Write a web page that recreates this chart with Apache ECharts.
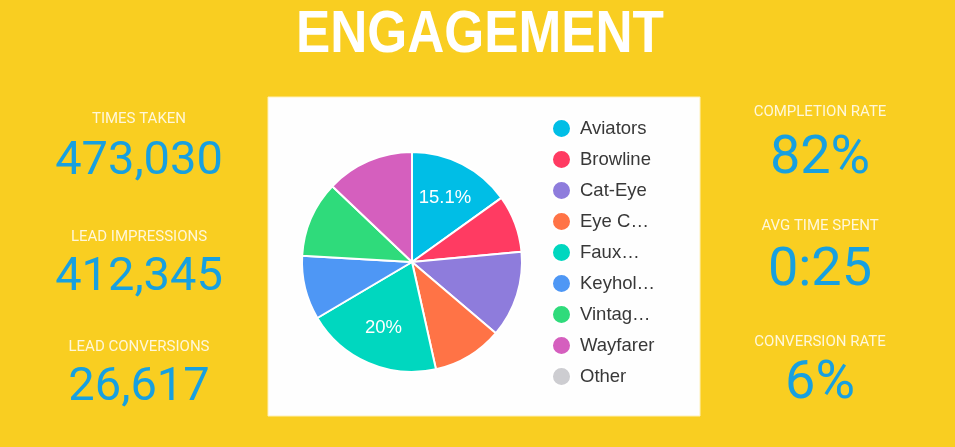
<!DOCTYPE html>
<html>
<head>
<meta charset="utf-8">
<script src="https://cdn.jsdelivr.net/npm/echarts@6/dist/echarts.min.js"></script>
<style>
html,body{margin:0;padding:0;background:#F9CE21;}
#c{width:955px;height:447px;}
</style>
</head>
<body>
<div id="c"></div>
<script>
// ---- data ----
var titleText = 'ENGAGEMENT';
var categories = ['Aviators', 'Browline', 'Cat-Eye', 'Eye C\u2026', 'Faux\u2026', 'Keyhol\u2026', 'Vintag\u2026', 'Wayfarer', 'Other'];
var shares = [15.1, 8.4, 12.7, 10.3, 20.0, 9.4, 11.2, 12.9, 0];
var sliceColors = ['#00BEE6', '#FF3B62', '#8E7CDC', '#FF7346', '#00D7BF', '#4E97F5', '#2FDB7B', '#D55FBE', '#CDCDD1'];
var leftLabels = ['TIMES TAKEN', 'LEAD IMPRESSIONS', 'LEAD CONVERSIONS'];
var leftValues = ['473,030', '412,345', '26,617'];
var rightLabels = ['COMPLETION RATE', 'AVG TIME SPENT', 'CONVERSION RATE'];
var rightValues = ['82%', '0:25', '6%'];

// ---- layout ----
var chart = echarts.init(document.getElementById('c'));
var pieData = categories.map(function (n, i) {
  return { name: n, value: shares[i], itemStyle: { color: sliceColors[i] } };
});
var ghostData = categories.map(function (n, i) {
  return { name: n, value: shares[i] };
});

var statFont = 'Roboto, "Open Sans", sans-serif';
var labelColor = '#FFF7DA';
var valueColor = '#17A0E0';
var leftX = 139, rightX = 820;
var leftLabelY = [119, 237, 347], leftValueY = [162, 278, 388];
var rightLabelY = [112, 226, 342], rightValueY = [159, 271, 384];

var graphics = [];
graphics.push({
  type: 'rect', z: 0,
  shape: { x: 268, y: 97, width: 432, height: 319 },
  style: { fill: '#FEFEFE', stroke: '#FFF1B8', lineWidth: 1 }
});
graphics.push({
  type: 'text', z: 1, x: 480, y: 36, scaleX: 0.87,
  style: { text: titleText, fill: '#FFFFFF', font: 'bold 59px "Liberation Sans", Arial, sans-serif', textAlign: 'center', textVerticalAlign: 'middle' }
});
function addStat(x, ly, vy, label, value, vsize) {
  graphics.push({
    type: 'text', z: 1, x: x, y: ly,
    style: { text: label, fill: labelColor, font: '15px ' + statFont, textAlign: 'center', textVerticalAlign: 'middle' }
  });
  graphics.push({
    type: 'text', z: 1, x: x, y: vy,
    style: { text: value, fill: valueColor, font: vsize + 'px ' + statFont, textAlign: 'center', textVerticalAlign: 'middle' }
  });
}
for (var i = 0; i < 3; i++) {
  addStat(leftX, leftLabelY[i], leftValueY[i], leftLabels[i], leftValues[i], 47);
  addStat(rightX, rightLabelY[i], rightValueY[i], rightLabels[i], rightValues[i], 54);
}

var option = {
  backgroundColor: '#F9CE21',
  animation: false,
  graphic: graphics,
  legend: {
    orient: 'vertical',
    left: 546,
    top: 113,
    itemWidth: 27,
    itemHeight: 19,
    itemGap: 10,
    icon: 'circle',
    data: categories,
    textStyle: { fontSize: 18.5, color: '#383838', fontFamily: '"Liberation Sans", Arial, sans-serif' }
  },
  series: [
    {
      type: 'pie',
      center: [412, 262],
      radius: [0, 110],
      startAngle: 90,
      clockwise: true,
      avoidLabelOverlap: false,
      label: { show: false },
      labelLine: { show: false },
      itemStyle: { borderColor: '#FFFFFF', borderWidth: 2 },
      emphasis: { disabled: true },
      data: pieData,
      z: 2
    },
    {
      type: 'pie',
      center: [412, 262],
      radius: [28, 110],
      startAngle: 90,
      clockwise: true,
      silent: true,
      avoidLabelOverlap: false,
      itemStyle: { color: 'rgba(0,0,0,0)' },
      labelLine: { show: false },
      label: {
        show: true,
        position: 'inside',
        color: '#FFFFFF',
        fontSize: 18.5,
        fontFamily: '"Liberation Sans", Arial, sans-serif',
        formatter: function (p) { return p.percent >= 15 ? p.percent + '%' : ''; }
      },
      emphasis: { disabled: true },
      data: ghostData,
      z: 3
    }
  ]
};
chart.setOption(option);
</script>
</body>
</html>
